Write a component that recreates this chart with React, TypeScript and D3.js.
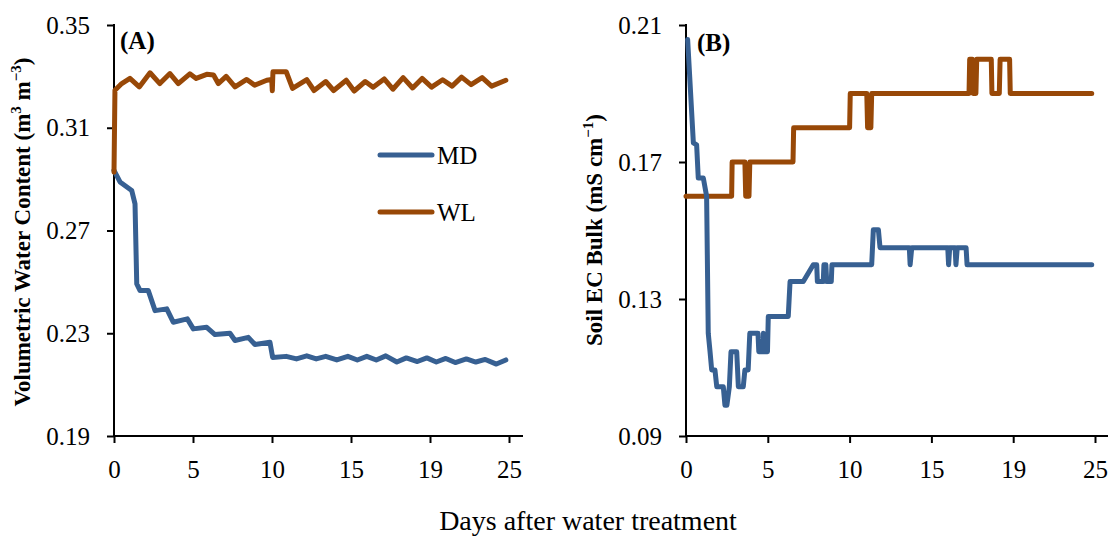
import React, { useEffect, useRef } from "react";
import * as d3 from "d3";

// tick labels on the day axis (evenly spaced, as in the original sheet)
const dayTickLabels = ["0", "5", "10", "15", "19", "25"];
const dayTickPos = [0, 5, 10, 15, 20, 25];
const vwcTicks = [0.19, 0.23, 0.27, 0.31, 0.35];
const ecTicks = [0.09, 0.13, 0.17, 0.21];
const seriesNames = ["MD", "WL"];
const seriesColors = ["#376092", "#984807"];

// panel A: volumetric water content, [day, value]
const vwcMD: [number, number][] = [
  [0, 0.2934], [0.38, 0.2889], [1.12, 0.2856], [1.33, 0.2804], [1.44, 0.2492],
  [1.65, 0.2466], [2.17, 0.2466], [2.6, 0.2388], [3.34, 0.2395], [3.75, 0.2343],
  [4.64, 0.2356], [5.02, 0.2317], [5.87, 0.2323], [6.39, 0.2295], [7.34, 0.23],
  [7.66, 0.2272], [8.5, 0.2284], [8.92, 0.2256], [9.87, 0.2265], [10.04, 0.2206],
  [10.9, 0.221], [11.55, 0.22], [12.2, 0.2212], [12.8, 0.22], [13.4, 0.221],
  [14.1, 0.2196], [14.8, 0.221], [15.4, 0.2196], [16.0, 0.221], [16.6, 0.2196],
  [17.2, 0.2212], [17.9, 0.2188], [18.5, 0.2204], [19.2, 0.219], [19.8, 0.2204],
  [20.4, 0.2188], [21.0, 0.2202], [21.6, 0.2186], [22.3, 0.22], [22.9, 0.2188],
  [23.5, 0.2198], [24.2, 0.218], [24.8, 0.2196],
];
const vwcWL: [number, number][] = [
  [0, 0.2927], [0.06, 0.3246], [0.49, 0.3272], [1.01, 0.3292], [1.6, 0.3259],
  [2.28, 0.3314], [2.9, 0.3272], [3.54, 0.3311], [4.07, 0.3272], [4.8, 0.331],
  [5.2, 0.3292], [5.87, 0.3308], [6.3, 0.3305], [6.6, 0.3272], [7.1, 0.33],
  [7.66, 0.3259], [8.4, 0.3288], [8.9, 0.3266], [9.67, 0.3285], [9.98, 0.3288],
  [10.02, 0.3244], [10.06, 0.3318], [10.9, 0.3318], [11.3, 0.3253], [12.2, 0.3287],
  [12.66, 0.3245], [13.4, 0.328], [13.9, 0.3245], [14.7, 0.3285], [15.2, 0.3243],
  [15.9, 0.328], [16.4, 0.3258], [17.1, 0.329], [17.65, 0.325], [18.3, 0.3295],
  [18.9, 0.3255], [19.5, 0.3292], [20.1, 0.3258], [20.8, 0.3287], [21.4, 0.3262],
  [22.0, 0.3297], [22.6, 0.3268], [23.3, 0.3295], [23.9, 0.3262], [24.8, 0.3285],
];

// panel B: soil EC bulk, [day, value]
const ecMD: [number, number][] = [
  [0.1, 0.2058], [0.45, 0.1756], [0.65, 0.175], [0.75, 0.1653], [1.06, 0.1653],
  [1.26, 0.16], [1.36, 0.12], [1.47, 0.1146], [1.57, 0.1093], [1.77, 0.1093],
  [1.88, 0.1044], [2.28, 0.1044], [2.38, 0.099], [2.5, 0.099], [2.65, 0.1044],
  [2.75, 0.1146], [3.1, 0.1146], [3.2, 0.1044], [3.5, 0.1044], [3.6, 0.1093],
  [3.8, 0.1093], [3.9, 0.12], [4.4, 0.12], [4.45, 0.1146], [4.7, 0.1146],
  [4.73, 0.12], [4.78, 0.1146], [4.98, 0.1146], [5.03, 0.1249], [6.25, 0.1249],
  [6.36, 0.1351], [7.17, 0.1351], [7.78, 0.14], [7.99, 0.14], [8.03, 0.1351],
  [8.39, 0.1351], [8.43, 0.14], [8.55, 0.14], [8.6, 0.1351], [8.88, 0.1351],
  [8.92, 0.14], [11.35, 0.14], [11.45, 0.1502], [11.76, 0.1502], [11.86, 0.145],
  [13.65, 0.145], [13.7, 0.14], [13.8, 0.145], [16.0, 0.145], [16.05, 0.14],
  [16.12, 0.145], [16.45, 0.145], [16.5, 0.14], [16.58, 0.145], [17.12, 0.145],
  [17.18, 0.14], [24.8, 0.14],
];
const ecWL: [number, number][] = [
  [0, 0.16], [2.79, 0.16], [2.82, 0.17], [3.6, 0.17], [3.65, 0.16], [3.85, 0.16],
  [3.9, 0.17], [6.54, 0.17], [6.58, 0.18], [10.0, 0.18], [10.04, 0.19], [11.05, 0.19],
  [11.1, 0.18], [11.3, 0.18], [11.35, 0.19], [17.3, 0.19], [17.34, 0.2], [17.5, 0.2],
  [17.55, 0.19], [17.72, 0.19], [17.77, 0.2], [18.66, 0.2], [18.7, 0.19], [19.15, 0.19],
  [19.2, 0.2], [19.78, 0.2], [19.82, 0.19], [24.8, 0.19],
];

const FONT = "'Liberation Serif', 'Times New Roman', serif";

const App = () => {
  const svgRef = useRef(null);

  useEffect(() => {
    const svg = d3.select(svgRef.current);
    svg.selectAll("*").remove();

    const top = 25;
    const bottom = 436;

    const panels = [
      {
        left: 114, right: 509, axisEnd: 523, domain: [0.19, 0.35], ticks: vwcTicks,
        series: [vwcMD, vwcWL], order: [0, 1], tag: "(A)", tagX: 120, tagY: 49,
      },
      {
        left: 686, right: 1095, axisEnd: 1108, domain: [0.09, 0.21], ticks: ecTicks,
        series: [ecMD, ecWL], order: [1, 0], tag: "(B)", tagX: 697, tagY: 51,
      },
    ];

    panels.forEach((p) => {
      const x = d3.scaleLinear().domain([0, 25]).range([p.left, p.right]);
      const y = d3.scaleLinear().domain(p.domain).range([bottom, top]);
      const g = svg.append("g");

      // x axis
      g.append("g")
        .attr("transform", `translate(0,${bottom})`)
        .call(
          d3.axisBottom(x)
            .tickValues(dayTickPos)
            .tickFormat((d, i) => dayTickLabels[i])
            .tickSize(7)
            .tickPadding(17)
        )
        .call((a) => a.select(".domain").remove())
        .call((a) => a.selectAll(".tick line").attr("stroke", "#000").attr("stroke-width", 2))
        .call((a) =>
          a.selectAll("text").attr("font-family", FONT).attr("font-size", 25).attr("fill", "#000")
        );
      g.append("line")
        .attr("x1", p.left - 1).attr("x2", p.axisEnd)
        .attr("y1", bottom).attr("y2", bottom)
        .attr("stroke", "#000").attr("stroke-width", 2);

      // y axis
      g.append("g")
        .attr("transform", `translate(${p.left},0)`)
        .call(
          d3.axisLeft(y)
            .tickValues(p.ticks)
            .tickFormat(d3.format(".2f"))
            .tickSize(7)
            .tickPadding(17)
        )
        .call((a) => a.select(".domain").remove())
        .call((a) => a.selectAll(".tick line").attr("stroke", "#000").attr("stroke-width", 2))
        .call((a) =>
          a.selectAll("text").attr("font-family", FONT).attr("font-size", 25).attr("fill", "#000")
        );
      g.append("line")
        .attr("x1", p.left).attr("x2", p.left)
        .attr("y1", top - 1).attr("y2", bottom + 1)
        .attr("stroke", "#000").attr("stroke-width", 2);

      // data lines
      const line = d3.line<[number, number]>()
        .x((d) => x(d[0]))
        .y((d) => y(d[1]));
      p.order.forEach((si) => {
        g.append("path")
          .datum(p.series[si])
          .attr("fill", "none")
          .attr("stroke", seriesColors[si])
          .attr("stroke-width", 5)
          .attr("stroke-linejoin", "round")
          .attr("stroke-linecap", "round")
          .attr("d", line);
      });

      // panel tag
      g.append("text")
        .attr("x", p.tagX).attr("y", p.tagY)
        .attr("font-family", FONT).attr("font-weight", "bold").attr("font-size", 25)
        .text(p.tag);
    });

    // legend (panel A)
    seriesNames.forEach((name, i) => {
      const ly = 155 + i * 57;
      svg.append("line")
        .attr("x1", 380).attr("x2", 432).attr("y1", ly).attr("y2", ly)
        .attr("stroke", seriesColors[i]).attr("stroke-width", 5).attr("stroke-linecap", "round");
      svg.append("text")
        .attr("x", 437).attr("y", ly + 8.5)
        .attr("font-family", FONT).attr("font-size", 25)
        .text(name);
    });

    // y titles
    const ta = svg.append("text")
      .attr("transform", "translate(30,232) rotate(-90)")
      .attr("text-anchor", "middle")
      .attr("font-family", FONT).attr("font-weight", "bold").attr("font-size", 23);
    ta.append("tspan").text("Volumetric  Water  Content (m");
    ta.append("tspan").attr("dy", -9).attr("font-size", 15).text("3");
    ta.append("tspan").attr("dy", 9).text(" m");
    ta.append("tspan").attr("dy", -9).attr("font-size", 15).text("\u22123");
    ta.append("tspan").attr("dy", 9).text(")");

    const tb = svg.append("text")
      .attr("transform", "translate(602,230) rotate(-90)")
      .attr("text-anchor", "middle")
      .attr("font-family", FONT).attr("font-weight", "bold").attr("font-size", 23);
    tb.append("tspan").text("Soil EC Bulk (mS cm");
    tb.append("tspan").attr("dy", -9).attr("font-size", 15).text("\u22121");
    tb.append("tspan").attr("dy", 9).text(")");

    // x title
    svg.append("text")
      .attr("x", 588).attr("y", 530)
      .attr("text-anchor", "middle")
      .attr("font-family", FONT).attr("font-size", 28)
      .text("Days after water treatment");
  }, []);

  return (
    <svg
      ref={svgRef}
      width={1108}
      height={537}
      style={{ position: "absolute", left: 0, top: 0, background: "#fff" }}
    ></svg>
  );
};

export default App;
